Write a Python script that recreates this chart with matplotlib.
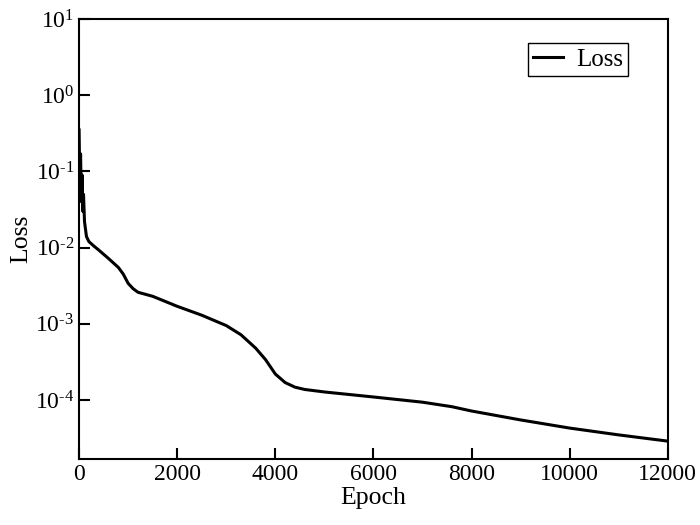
import matplotlib
matplotlib.use("Agg")
import matplotlib.pyplot as plt
from matplotlib.ticker import FuncFormatter
import numpy as np

# Loss curve
epoch = [0, 15, 30, 45, 60, 75, 90, 110, 150, 200, 300, 400, 600, 800, 900, 1000,
         1100, 1200, 1500, 2000, 2500, 3000, 3300, 3600, 3800, 4000, 4200, 4400, 4600,
         5000, 6000, 7000, 7600, 8000, 9000, 10000, 11000, 12000]
loss = [0.35, 0.06, 0.17, 0.04, 0.09, 0.03, 0.05, 0.022, 0.014, 0.012, 0.0105, 0.0093,
        0.0072, 0.0055, 0.0045, 0.0034, 0.0029, 0.0026, 0.0023, 0.0017, 0.0013,
        0.00095, 0.00072, 0.00048, 0.00034, 0.00022, 0.00017, 0.000148, 0.000138,
        0.000128, 0.00011, 0.000094, 0.000082, 0.000072, 0.000055, 0.000043,
        0.000035, 0.000029]

plt.rcParams['font.family'] = ['Liberation Serif', 'DejaVu Serif']
plt.rcParams['mathtext.fontset'] = 'custom'
plt.rcParams['mathtext.rm'] = 'Liberation Serif'

fig = plt.figure(figsize=(7, 5.25), dpi=100)
ax = fig.add_axes([0.113, 0.126, 0.841, 0.838])

ax.plot(epoch, loss, color='black', linewidth=2.2, label='Loss')
ax.set_yscale('log')
ax.set_xlim(0, 12000)
ax.set_ylim(10**-4.77, 10)
ax.set_xticks([0, 2000, 4000, 6000, 8000, 10000, 12000])
ax.set_yticks([1e-4, 1e-3, 1e-2, 1e-1, 1e0, 1e1])


def fmt(v, pos):
    e = int(round(np.log10(v)))
    s = str(e).replace('-', r'\text{-}')
    return r'$\mathregular{10^{%s}}$' % s


ax.yaxis.set_major_formatter(FuncFormatter(fmt))
ax.minorticks_off()
ax.tick_params(direction='in', length=8, width=1.5, labelsize=17,
               top=False, right=False)
for s in ax.spines.values():
    s.set_linewidth(1.5)

ax.set_xlabel('Epoch', fontsize=18.5, labelpad=2)
ax.set_ylabel('Loss', fontsize=18.5, labelpad=2)

leg = ax.legend(loc='upper right', bbox_to_anchor=(0.932, 0.945), fontsize=18,
                fancybox=False, framealpha=1, edgecolor='black', handlelength=1.2,
                borderaxespad=0, borderpad=0.2, handletextpad=0.5)
leg.get_frame().set_linewidth(1.0)

fig.savefig('out.png', dpi=100)
